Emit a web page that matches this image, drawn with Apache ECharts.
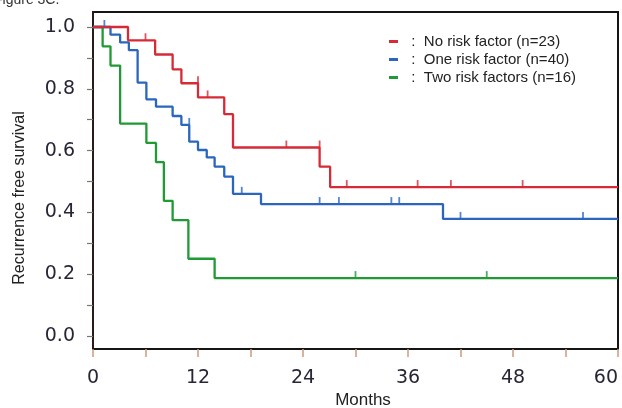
<!DOCTYPE html>
<html>
<head>
<meta charset="utf-8">
<script src="https://cdn.jsdelivr.net/npm/echarts@6/dist/echarts.min.js"></script>
<style>
html,body{margin:0;padding:0;background:#fff;}
#c{width:622px;height:408px;}
</style>
</head>
<body>
<div id="c"></div>
<script>
// ---- data ----
const seriesNames = ['No risk factor (n=23)', 'One risk factor (n=40)', 'Two risk factors (n=16)'];

const redTimes = [0, 4.0, 7.1, 9.1, 10.1, 12.0, 15.0, 16.0, 25.9, 27.1, 60];
const redSurv  = [1.0, 0.957, 0.911, 0.863, 0.818, 0.772, 0.718, 0.61, 0.548, 0.482, 0.482];
const redCensorTimes = [6.0, 12.0, 13.1, 22.1, 25.9, 29.0, 37.1, 40.9, 49.1];
const redCensorSurv  = [0.957, 0.818, 0.772, 0.61, 0.61, 0.482, 0.482, 0.482, 0.482];

const blueTimes = [0, 2.0, 3.1, 4.1, 5.1, 6.1, 7.2, 9.1, 10.1, 11.0, 12.0, 13.0, 13.9, 15.0, 16.0, 19.2, 40.0, 60];
const blueSurv  = [1.0, 0.975, 0.95, 0.925, 0.82, 0.766, 0.742, 0.712, 0.683, 0.629, 0.602, 0.578, 0.548, 0.516, 0.46, 0.427, 0.379, 0.379];
const blueCensorTimes = [1.3, 11.0, 17.0, 25.9, 28.1, 34.1, 35.0, 42.0, 56.0];
const blueCensorSurv  = [1.0, 0.683, 0.46, 0.427, 0.427, 0.427, 0.427, 0.379, 0.379];

const greenTimes = [0, 1.1, 2.0, 3.1, 6.1, 7.2, 8.1, 9.1, 10.9, 13.9, 60];
const greenSurv  = [1.0, 0.9375, 0.875, 0.6875, 0.625, 0.5625, 0.4375, 0.375, 0.25, 0.1875, 0.1875];
const greenCensorTimes = [30.0, 45.0];
const greenCensorSurv  = [0.1875, 0.1875];

const xTickValues  = [0, 6, 12, 18, 24, 30, 36, 42, 48, 54, 60];
const xLabelValues = [0, 12, 24, 36, 48, 60];
const yTickValues  = [0, 0.1, 0.2, 0.3, 0.4, 0.5, 0.6, 0.7, 0.8, 0.9, 1.0];
const yLabelValues = [0, 0.2, 0.4, 0.6, 0.8, 1.0];

const colors = ['#d62a36', '#2a66bd', '#1f9a34'];

function pairs(xs, ys) { return xs.map((x, i) => [x, ys[i]]); }

const curves = [
  [redTimes, redSurv, redCensorTimes, redCensorSurv],
  [blueTimes, blueSurv, blueCensorTimes, blueCensorSurv],
  [greenTimes, greenSurv, greenCensorTimes, greenCensorSurv]
];

const series = [];
curves.forEach((c, i) => {
  series.push({
    name: seriesNames[i], type: 'line', step: 'end', data: pairs(c[0], c[1]),
    showSymbol: false, lineStyle: { color: colors[i], width: 2.3 }, itemStyle: { color: colors[i] },
    z: 3 - i + 2, animation: false
  });
  series.push({
    name: seriesNames[i] + ' censored', type: 'scatter', data: pairs(c[2], c[3]),
    symbol: 'rect', symbolSize: [1.8, 7], symbolOffset: [0, -3.5],
    itemStyle: { color: colors[i] }, z: 6, animation: false
  });
});

const chart = echarts.init(document.getElementById('c'), null, { renderer: 'canvas' });
chart.setOption({
  animation: false,
  backgroundColor: '#ffffff',
  grid: { left: 93, right: 4, top: 12, bottom: 59, show: true, borderColor: '#151515', borderWidth: 2, containLabel: false },
  legend: {
    data: seriesNames, orient: 'vertical', left: 384, top: 29, itemGap: 3,
    icon: 'rect', itemWidth: 9, itemHeight: 3,
    formatter: n => '  :  ' + n,
    textStyle: { fontFamily: 'Liberation Sans, Arial', fontSize: 15, color: '#222' },
    selectedMode: false
  },
  xAxis: {
    type: 'value', min: 0, max: 60, interval: 6,
    axisLine: { show: true, onZero: false, lineStyle: { color: '#151515', width: 2 } },
    axisTick: { show: true, customValues: xTickValues, length: 8, lineStyle: { color: '#cf9a7c', width: 1.5 } },
    axisLabel: { customValues: xLabelValues, margin: 20, fontFamily: 'DejaVu Sans', fontSize: 19, color: '#262636', alignMaxLabel: 'right' },
    splitLine: { show: false }
  },
  yAxis: {
    type: 'value', min: -0.042, max: 1.0485,
    axisLine: { show: true, onZero: false, lineStyle: { color: '#2a1a1a', width: 2 } },
    axisTick: { show: true, customValues: yTickValues, length: 6, lineStyle: { color: '#777', width: 1.2 } },
    axisLabel: { customValues: yLabelValues, margin: 18, fontFamily: 'DejaVu Sans', fontSize: 19, color: '#262636', formatter: v => v.toFixed(1) },
    splitLine: { show: false }
  },
  graphic: [
    { type: 'text', x: 20, y: 198, rotation: Math.PI / 2,
      style: { text: 'Recurrence free survival', font: '16px "Liberation Sans"', fill: '#222', align: 'center', verticalAlign: 'middle' } },
    { type: 'text', x: 363, y: 400,
      style: { text: 'Months', font: '17px "Liberation Sans"', fill: '#222', align: 'center', verticalAlign: 'middle' } },
    { type: 'text', x: -6, y: -7,
      style: { text: 'Figure 3C.', font: '14px "Liberation Sans"', fill: '#333', align: 'left', verticalAlign: 'top' } }
  ],
  series: series
});
</script>
</body>
</html>
